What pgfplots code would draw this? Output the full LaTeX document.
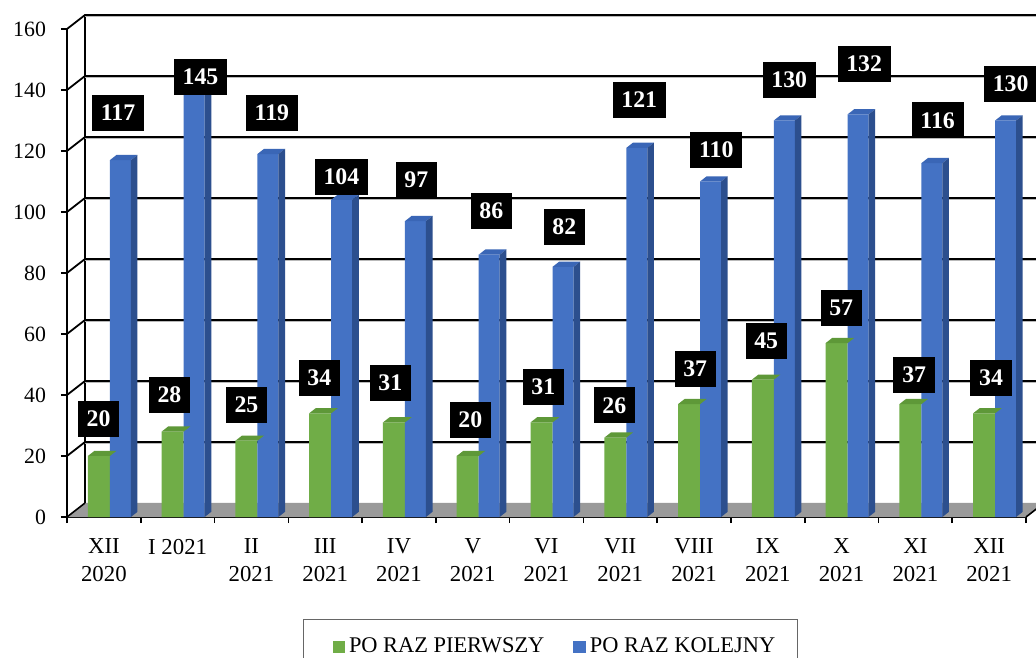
\documentclass[border=0pt]{standalone}
\usepackage{pgfplots}
\usepackage{pgfplotstable}
\pgfplotsset{compat=1.18}
\usepackage{fontspec}
\setmainfont{Liberation Serif}
\definecolor{gfront}{HTML}{70AD47}
\definecolor{gtop}{HTML}{5E9838}
\definecolor{bfront}{HTML}{4472C4}
\definecolor{bside}{HTML}{2C4F8E}
\definecolor{btop}{HTML}{3A66B6}
\definecolor{floorgray}{HTML}{9A9A9A}

\pgfdeclareplotmark{gtop3d}{%
  \pgfsetfillcolor{gtop}%
  \pgfpathmoveto{\pgfqpoint{-8pt}{0pt}}%
  \pgfpathlineto{\pgfqpoint{3pt}{0pt}}%
  \pgfpathlineto{\pgfqpoint{6.3pt}{2.6pt}}%
  \pgfpathlineto{\pgfqpoint{-4.7pt}{2.6pt}}%
  \pgfpathclose
  \pgfusepath{fill}%
}
\pgfdeclareplotmark{bface3d}{%
  \pgfsetfillcolor{btop}%
  \pgfpathmoveto{\pgfqpoint{3pt}{0pt}}%
  \pgfpathlineto{\pgfqpoint{13.5pt}{0pt}}%
  \pgfpathlineto{\pgfqpoint{16.8pt}{2.6pt}}%
  \pgfpathlineto{\pgfqpoint{6.3pt}{2.6pt}}%
  \pgfpathclose
  \pgfusepath{fill}%
  \pgfsetfillcolor{bside}%
  \pgfpathmoveto{\pgfqpoint{13.5pt}{0pt}}%
  \pgfpathlineto{\pgfqpoint{16.8pt}{2.6pt}}%
  \pgfpathlineto{\pgfpoint{16.8pt}{2.6pt-1.525*\barv pt}}%
  \pgfpathlineto{\pgfpoint{13.5pt}{-1.525*\barv pt}}%
  \pgfpathclose
  \pgfusepath{fill}%
}

\pgfplotstableread{
x g b
0 20 117
1 28 145
2 25 119
3 34 104
4 31 97
5 20 86
6 31 82
7 26 121
8 37 110
9 45 130
10 57 132
11 37 116
12 34 130
}\datatab

\pgfplotstableread{
x y t
0.191 132.5 117
1.309 144.4 145
2.278 132.5 119
3.220 111.6 104
4.236 110.5 97
5.252 100.3 86
6.241 95.1 82
7.257 136.7 121
8.301 120.3 110
9.290 143.3 130
10.306 148.5 132
11.302 130.0 116
12.291 142.1 130
-0.073 32.1 20
0.889 40.0 28
1.932 36.7 25
2.921 45.6 34
3.883 43.9 31
4.967 31.8 20
5.957 42.6 31
6.919 36.6 26
8.016 48.5 37
8.978 57.7 45
9.995 68.5 57
10.984 46.6 37
12.027 45.6 34
}\labtab

\begin{document}
\begin{tikzpicture}
\useasboundingbox (0,0) rectangle (518pt,328.5pt);
\fill[white] (0,0) rectangle (518pt,328.5pt);
\clip (0,0) rectangle (518pt,328.5pt);
\begin{axis}[
  at={(33.5pt,70pt)}, anchor=south west,
  scale only axis, width=479.5pt, height=244pt,
  xmin=-0.5, xmax=12.5, ymin=0, ymax=160,
  clip=false,
  axis x line*=bottom, axis y line*=left,
  axis line style={line width=0.9pt, black},
  xtick={0,...,12},
  xticklabels={{XII\\2020},{I 2021},{II\\2021},{III\\2021},{IV\\2021},{V\\2021},{VI\\2021},{VII\\2021},{VIII\\2021},{IX\\2021},{X\\2021},{XI\\2021},{XII\\2021}},
  minor xtick={-0.5,0.5,...,12.5},
  major x tick style={draw=none},
  ytick={0,20,...,160},
  tick align=outside,
  major tick length=3pt, minor tick length=3pt,
  every tick/.style={black, line width=0.8pt},
  /pgf/number format/assume math mode=true,
  xticklabel style={align=center, font=\fontsize{11.4}{14}\selectfont, yshift=-4.5pt},
  yticklabel style={font=\fontsize{10.9}{12}\selectfont, xshift=-4pt},
  legend columns=2,
  legend style={at={(0.2461,-0.2091)}, anchor=north west, draw=gray!80!black, line width=0.6pt,
    font=\fontsize{11.2}{13}\selectfont, inner xsep=9pt, inner ysep=7pt,
    /tikz/every even column/.append style={column sep=7pt}},
]
% floor
\fill[floorgray] (axis cs:-0.5,0) -- (axis cs:12.5,0) -- ++(9pt,7pt) -- ([shift={(9pt,7pt)}]axis cs:-0.5,0) -- cycle;
\draw[black, line width=0.8pt] (axis cs:-0.5,0) -- ++(9pt,7pt);
\draw[black, line width=0.8pt] (axis cs:12.5,0) -- ++(9pt,7pt);
% back wall
\draw[black, line width=0.8pt] ([shift={(9pt,7pt)}]axis cs:-0.5,0) -- ([shift={(9pt,7pt)}]axis cs:-0.5,160);
\pgfplotsinvokeforeach{20,40,...,160}{
  \draw[gray!55, line width=0.7pt] ([shift={(9.2pt,6.1pt)}]axis cs:-0.5,#1) -- ++(520pt,0);
  \draw[black, line width=0.9pt] (axis cs:-0.5,#1) -- ++(9pt,7pt) -- ++(520pt,0);
}
% bars
\addplot[ybar, bar width=11pt, bar shift=-2.5pt, fill=gfront, draw=none,
  legend image code/.code={\path (-5.5pt,0); \fill[gfront] (0pt,-3.3pt) rectangle (6.2pt,2.9pt);}]
  table[x=x,y=g]{\datatab};
\addlegendentry{PO RAZ PIERWSZY}
\addplot[only marks, mark=gtop3d, forget plot] table[x=x,y=g]{\datatab};
\addplot[ybar, bar width=10.5pt, bar shift=8.25pt, fill=bfront, draw=none,
  legend image code/.code={\path (-5.5pt,0); \fill[bfront] (0pt,-3.3pt) rectangle (6.2pt,2.9pt);}]
  table[x=x,y=b]{\datatab};
\addlegendentry{PO RAZ KOLEJNY}
\addplot[only marks, mark=bface3d, forget plot,
  visualization depends on={\thisrow{b} \as \barv}] table[x=x,y=b]{\datatab};
% value labels
\addplot[forget plot, draw=none, mark=none, nodes near coords, point meta=explicit symbolic,
  every node near coord/.style={anchor=center, fill=black, text=white,
    font=\bfseries\fontsize{11.9}{14}\selectfont, inner xsep=4.4pt, inner ysep=0pt, minimum height=18pt}]
  table[x=x, y=y, meta=t]{\labtab};
\end{axis}
\end{tikzpicture}
\end{document}
